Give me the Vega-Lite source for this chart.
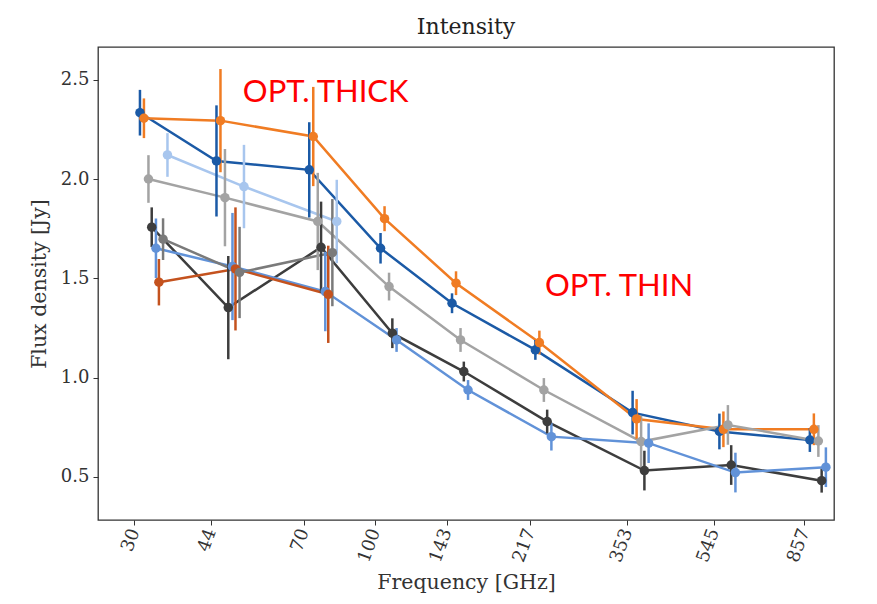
{
  "$schema": "https://vega.github.io/schema/vega-lite/v6.json",
  "width": 736,
  "height": 473,
  "autosize": {"type": "none"},
  "padding": {"left": 98, "top": 47, "right": 43, "bottom": 84},
  "background": "white",
  "config": {
    "view": {"stroke": "#333333", "strokeWidth": 1.3},
    "font": "DejaVu Serif"
  },
  "title": {"text": "Intensity", "font": "DejaVu Serif", "fontSize": 22, "fontWeight": "normal", "color": "#222222", "offset": 8},
  "datasets": {
    "pts": [
      {"s": "A", "f": 30.84, "v": 2.335, "e": 0.115},
      {"s": "A", "f": 45.23, "v": 2.092, "e": 0.28},
      {"s": "A", "f": 71.95, "v": 2.047, "e": 0.24},
      {"s": "A", "f": 102.79, "v": 1.652, "e": 0.077},
      {"s": "A", "f": 146.99, "v": 1.375, "e": 0.05},
      {"s": "A", "f": 223.05, "v": 1.14, "e": 0.05},
      {"s": "A", "f": 362.85, "v": 0.824, "e": 0.11},
      {"s": "A", "f": 560.21, "v": 0.729, "e": 0.09},
      {"s": "A", "f": 880.91, "v": 0.686, "e": 0.06},
      {"s": "B", "f": 31.46, "v": 2.307, "e": 0.1},
      {"s": "B", "f": 46.14, "v": 2.295, "e": 0.26},
      {"s": "B", "f": 73.41, "v": 2.215, "e": 0.25},
      {"s": "B", "f": 104.87, "v": 1.801, "e": 0.063},
      {"s": "B", "f": 149.96, "v": 1.476, "e": 0.06},
      {"s": "B", "f": 227.57, "v": 1.177, "e": 0.06},
      {"s": "B", "f": 370.19, "v": 0.792, "e": 0.1},
      {"s": "B", "f": 571.54, "v": 0.74, "e": 0.09},
      {"s": "B", "f": 898.74, "v": 0.74, "e": 0.08},
      {"s": "C", "f": 32.18, "v": 2.001, "e": 0.12},
      {"s": "C", "f": 47.19, "v": 1.907, "e": 0.245},
      {"s": "C", "f": 75.08, "v": 1.787, "e": 0.245},
      {"s": "C", "f": 107.26, "v": 1.459, "e": 0.07},
      {"s": "C", "f": 153.38, "v": 1.19, "e": 0.06},
      {"s": "C", "f": 232.75, "v": 0.938, "e": 0.06},
      {"s": "C", "f": 378.63, "v": 0.678, "e": 0.13},
      {"s": "C", "f": 584.57, "v": 0.762, "e": 0.1},
      {"s": "C", "f": 919.22, "v": 0.681, "e": 0.08},
      {"s": "D", "f": 32.71, "v": 1.758, "e": 0.1},
      {"s": "D", "f": 47.98, "v": 1.353, "e": 0.26},
      {"s": "D", "f": 76.33, "v": 1.657, "e": 0.23},
      {"s": "D", "f": 109.04, "v": 1.224, "e": 0.075},
      {"s": "D", "f": 155.93, "v": 1.031, "e": 0.05},
      {"s": "D", "f": 236.62, "v": 0.779, "e": 0.06},
      {"s": "D", "f": 384.91, "v": 0.532, "e": 0.1},
      {"s": "D", "f": 594.27, "v": 0.56, "e": 0.1},
      {"s": "D", "f": 934.47, "v": 0.481, "e": 0.06},
      {"s": "E", "f": 33.41, "v": 1.652, "e": 0.15},
      {"s": "E", "f": 49.0, "v": 1.56, "e": 0.27},
      {"s": "E", "f": 77.96, "v": 1.434, "e": 0.2},
      {"s": "E", "f": 111.37, "v": 1.19, "e": 0.06},
      {"s": "E", "f": 159.26, "v": 0.938, "e": 0.05},
      {"s": "E", "f": 241.67, "v": 0.703, "e": 0.07},
      {"s": "E", "f": 393.14, "v": 0.67, "e": 0.1},
      {"s": "E", "f": 606.97, "v": 0.522, "e": 0.1},
      {"s": "E", "f": 954.44, "v": 0.549, "e": 0.1},
      {"s": "G", "f": 33.91, "v": 1.481, "e": 0.117},
      {"s": "G", "f": 49.74, "v": 1.548, "e": 0.31},
      {"s": "G", "f": 79.13, "v": 1.42, "e": 0.245},
      {"s": "H", "f": 34.62, "v": 1.698, "e": 0.105},
      {"s": "H", "f": 50.77, "v": 1.53, "e": 0.23},
      {"s": "H", "f": 80.77, "v": 1.63, "e": 0.27},
      {"s": "F", "f": 35.39, "v": 2.122, "e": 0.11},
      {"s": "F", "f": 51.9, "v": 1.963, "e": 0.21},
      {"s": "F", "f": 82.57, "v": 1.787, "e": 0.21}
    ],
    "notes": [
      {"label": "OPT. THICK", "f": 51.6, "v": 2.435},
      {"label": "OPT. THIN", "f": 234, "v": 1.457}
    ]
  },
  "encoding": {
    "x": {
      "field": "f",
      "type": "quantitative",
      "scale": {"type": "log", "domain": [25, 994], "nice": false},
      "axis": {
        "values": [30, 44, 70, 100, 143, 217, 353, 545, 857],
        "labelAngle": -70,
        "title": "Frequency [GHz]",
        "grid": false,
        "domain": false,
        "tickSize": 5,
        "tickColor": "#333333",
        "labelFont": "DejaVu Serif",
        "labelFontSize": 18,
        "labelColor": "#333333",
        "labelPadding": 4,
        "titleFont": "DejaVu Serif",
        "titleFontSize": 20.5,
        "titleFontWeight": "normal",
        "titleColor": "#333333",
        "titlePadding": 8
      }
    },
    "y": {
      "field": "v",
      "type": "quantitative",
      "scale": {"domain": [0.283, 2.666], "nice": false, "zero": false},
      "axis": {
        "values": [0.5, 1.0, 1.5, 2.0, 2.5],
        "format": ".1f",
        "title": "Flux density [Jy]",
        "grid": false,
        "domain": false,
        "tickSize": 5,
        "tickColor": "#333333",
        "labelFont": "DejaVu Serif",
        "labelFontSize": 18,
        "labelColor": "#333333",
        "labelPadding": 4,
        "titleFont": "DejaVu Serif",
        "titleFontSize": 20.5,
        "titleFontWeight": "normal",
        "titleColor": "#333333",
        "titlePadding": 11
      }
    }
  },
  "layer": [
    {
      "data": {"name": "pts"},
      "mark": {"type": "line", "strokeWidth": 2.5},
      "encoding": {
        "color": {
          "field": "s",
          "type": "nominal",
          "legend": null,
          "scale": {
            "domain": ["A", "B", "C", "D", "E", "G", "H", "F"],
            "range": ["#1b5aa6", "#f07c23", "#a3a3a3", "#3d3d3d", "#6192d8", "#c4521e", "#7a7a7a", "#a8c6ee"]
          }
        }
      }
    },
    {
      "data": {"name": "pts"},
      "mark": {"type": "errorbar", "thickness": 2.5},
      "encoding": {
        "yError": {"field": "e"},
        "color": {"field": "s", "type": "nominal", "legend": null}
      }
    },
    {
      "data": {"name": "pts"},
      "mark": {"type": "point", "filled": true, "opacity": 1, "size": 90},
      "encoding": {
        "color": {"field": "s", "type": "nominal", "legend": null}
      }
    },
    {
      "data": {"name": "notes"},
      "mark": {"type": "text", "align": "left", "baseline": "middle", "font": "Lato", "fontSize": 31, "color": "#ff0000"},
      "encoding": {
        "text": {"field": "label", "type": "nominal"}
      }
    }
  ]
}
